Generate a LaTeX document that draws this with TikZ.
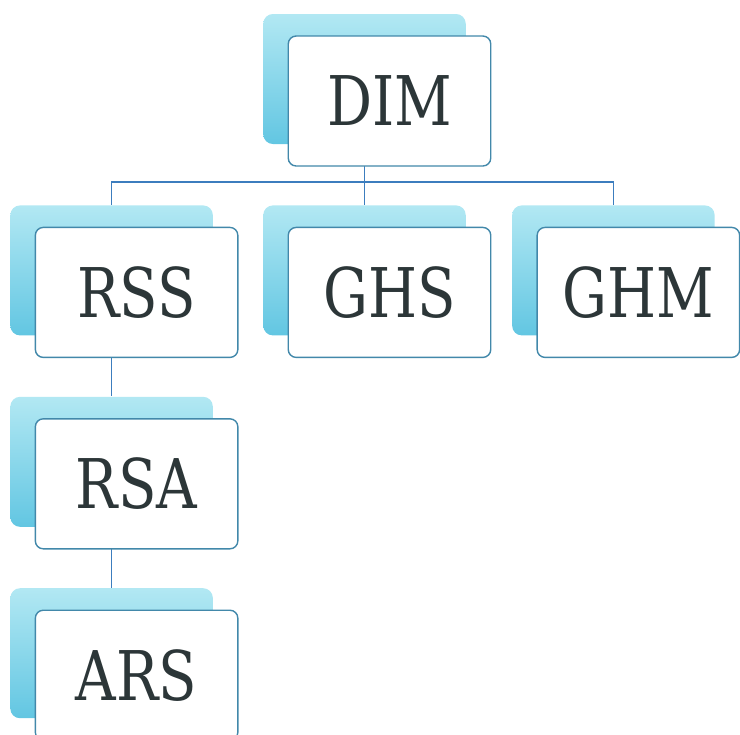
\documentclass[tikz,border=0pt]{standalone}
\usepackage{fontspec}
\setmainfont{DejaVu Serif}
\usepackage{tikz}
\usetikzlibrary{positioning, backgrounds, calc}
\definecolor{shadetop}{RGB}{178,232,243}
\definecolor{shadebot}{RGB}{98,198,226}
\definecolor{boxline}{RGB}{66,136,170}
\definecolor{linkblue}{RGB}{60,125,190}
\definecolor{inkgray}{RGB}{44,54,56}
\newcommand{\boxtext}[1]{\scalebox{0.82}[1]{#1}}

\begin{document}
\begin{tikzpicture}[
  node distance=1.2cm and 0.98cm,
  box/.style={draw=boxline, fill=white, rounded corners=4.5pt, line width=0.8pt,
              minimum width=4.05cm, minimum height=2.6cm,
              font=\fontsize{39}{46}\selectfont, text=inkgray},
  back/.style={rounded corners=5.5pt, minimum width=4.05cm, minimum height=2.6cm,
               top color=shadetop, bottom color=shadebot},
  link/.style={draw=linkblue, line width=1pt},
]
\useasboundingbox (0,0) rectangle (14.8,-14.68);

% Root
\node[box] (dim) at (7.79,-2.02) {\boxtext{DIM}};

% Second row
\node[box, below=of dim] (ghs) {\boxtext{GHS}};
\node[box, left=of ghs]  (rss) {\boxtext{RSS}};
\node[box, right=0.9cm of ghs] (ghm) {\boxtext{GHM}};

% Chain under RSS
\node[box, below=of rss] (rsa) {\boxtext{RSA}};
\node[box, below=of rsa] (ars) {\boxtext{ARS}};

\begin{scope}[on background layer]
% Back cards
\node[back] (dimS) at ($(dim)+(-0.5,0.44)$) {};
\node[back] (rssS) at ($(rss)+(-0.5,0.44)$) {};
\node[back] (ghsS) at ($(ghs)+(-0.5,0.44)$) {};
\node[back] (ghmS) at ($(ghm)+(-0.5,0.44)$) {};
\node[back] (rsaS) at ($(rsa)+(-0.5,0.44)$) {};
\node[back] (arsS) at ($(ars)+(-0.5,0.44)$) {};

% Tree links
\draw[link] (dimS.south) -- ++(0,-0.76) -| (rssS.north);
\draw[link] (dimS.south) -- ++(0,-0.76) -| (ghsS.north);
\draw[link] (dimS.south) -- ++(0,-0.76) -| (ghmS.north);
\draw[link] (rssS.south) -- (rsaS.north);
\draw[link] (rsaS.south) -- (arsS.north);
\end{scope}

\end{tikzpicture}
\end{document}
